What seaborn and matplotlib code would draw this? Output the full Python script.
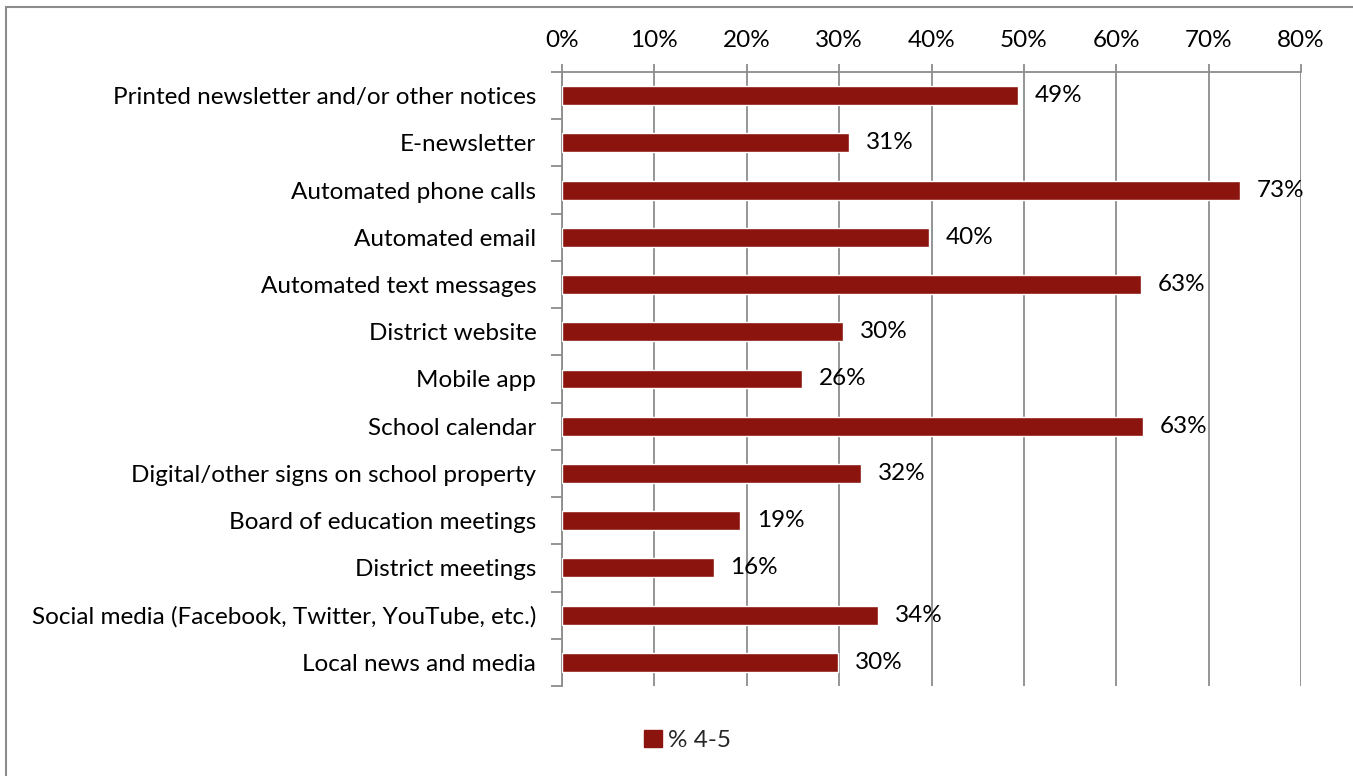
import matplotlib
matplotlib.use("Agg")
import matplotlib.pyplot as plt
import matplotlib.patches as mpatches
from matplotlib.ticker import MultipleLocator, PercentFormatter
import seaborn as sns
import pandas as pd

categories = [
    "Printed newsletter and/or other notices",
    "E-newsletter",
    "Automated phone calls",
    "Automated email",
    "Automated text messages",
    "District website",
    "Mobile app",
    "School calendar",
    "Digital/other signs on school property",
    "Board of education meetings",
    "District meetings",
    "Social media (Facebook, Twitter, YouTube, etc.)",
    "Local news and media",
]
values = [49.4, 31.1, 73.4, 39.7, 62.7, 30.4, 26.0, 62.9, 32.4, 19.3, 16.4, 34.2, 29.9]
series_name = "% 4-5"

bar_color = "#8B150E"
grid_color = "#8c8c8c"
font_size = 17.5

sns.set_theme(style="white")
plt.rcParams["font.family"] = ["Lato", "DejaVu Sans"]

df = pd.DataFrame({"category": categories, "value": values})

fig = plt.figure(figsize=(13.53, 7.76), dpi=100)
ax = fig.add_axes([0.4154, 0.116, 0.5462, 0.7912])

sns.barplot(data=df, y="category", x="value", orient="h", color=bar_color,
            saturation=1, width=0.4, ax=ax, zorder=3)

ax.set_xlim(0, 80)
ax.set_ylim(len(categories) - 0.5, -0.5)
ax.xaxis.set_major_locator(MultipleLocator(10))
ax.xaxis.set_major_formatter(PercentFormatter(decimals=0))
ax.xaxis.tick_top()
ax.xaxis.set_label_position("top")
ax.set_xlabel("")
ax.set_ylabel("")

ax.grid(axis="x", color=grid_color, linewidth=1.3, zorder=0)
ax.set_axisbelow(True)

for side in ["right", "bottom"]:
    ax.spines[side].set_visible(False)
for side in ["left", "top"]:
    ax.spines[side].set_color(grid_color)
    ax.spines[side].set_linewidth(1.3)

ax.tick_params(axis="x", which="major", direction="out", length=6, width=1.3,
               color=grid_color, labelsize=font_size, pad=9, labelcolor="black",
               top=True, bottom=False)
ax.tick_params(axis="y", which="major", length=0, labelsize=font_size, pad=18.5,
               labelcolor="black")
ax.set_yticks(range(len(categories)))
ax.set_yticks([i - 0.5 for i in range(len(categories) + 1)], minor=True)
ax.tick_params(axis="y", which="minor", direction="out", length=8, width=1.3,
               color=grid_color, left=True)

for i, v in enumerate(values):
    ax.text(v + 1.8, i, f"{v:.0f}%", va="center", ha="left", fontsize=font_size,
            color="black", zorder=4)

handle = mpatches.Patch(color=bar_color, label=series_name)
fig.legend(handles=[handle], loc="center", bbox_to_anchor=(0.508, 0.046),
           frameon=False, fontsize=font_size, handlelength=0.75, handleheight=0.75,
           handletextpad=0.25)

border = mpatches.Rectangle((6 / 1353, -0.01), 1.02, 1 - 7 / 776 + 0.01,
                            transform=fig.transFigure, fill=False,
                            edgecolor="#8c8c8c", linewidth=1.5)
fig.patches.append(border)

fig.savefig("out.png", dpi=100)
